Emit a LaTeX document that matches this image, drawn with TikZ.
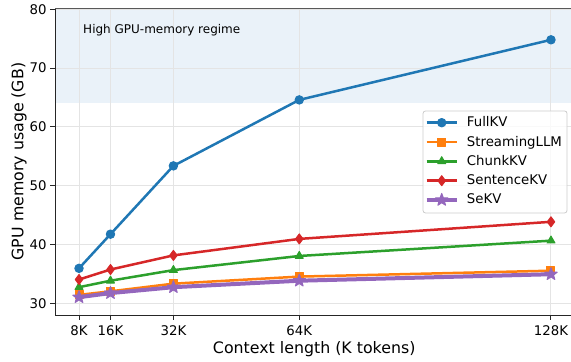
\documentclass[tikz,border=0pt]{standalone}
\usepackage{fontspec}
\setmainfont{DejaVu Sans}
\usetikzlibrary{plotmarks}

\definecolor{tabblue}{RGB}{31,119,180}
\definecolor{taborange}{RGB}{255,127,14}
\definecolor{tabgreen}{RGB}{44,160,44}
\definecolor{tabred}{RGB}{214,39,40}
\definecolor{tabpurple}{RGB}{148,103,189}
\definecolor{bandblue}{RGB}{234,242,249}
\definecolor{gridgray}{RGB}{228,228,228}

% filled five-pointed star for SeKV
\pgfdeclareplotmark{fivestar}{%
  \pgfpathmoveto{\pgfpointpolar{90}{\pgfplotmarksize}}%
  \pgfpathlineto{\pgfpointpolar{126}{0.42\pgfplotmarksize}}%
  \pgfpathlineto{\pgfpointpolar{162}{\pgfplotmarksize}}%
  \pgfpathlineto{\pgfpointpolar{198}{0.42\pgfplotmarksize}}%
  \pgfpathlineto{\pgfpointpolar{234}{\pgfplotmarksize}}%
  \pgfpathlineto{\pgfpointpolar{270}{0.42\pgfplotmarksize}}%
  \pgfpathlineto{\pgfpointpolar{306}{\pgfplotmarksize}}%
  \pgfpathlineto{\pgfpointpolar{342}{0.42\pgfplotmarksize}}%
  \pgfpathlineto{\pgfpointpolar{18}{\pgfplotmarksize}}%
  \pgfpathlineto{\pgfpointpolar{54}{0.42\pgfplotmarksize}}%
  \pgfpathclose\pgfusepathqfillstroke}

\begin{document}
\begin{tikzpicture}[x=3.933pt, y=5.89pt,
  curve/.style={line width=2.5pt, line join=round, mark options={solid, line width=1pt}},
  fullkv/.style={curve, color=tabblue, mark=*, mark size=4.2pt},
  streaming/.style={curve, color=taborange, mark=square*, mark size=4pt},
  chunkkv/.style={curve, color=tabgreen, mark=triangle*, mark size=4.6pt},
  sentkv/.style={curve, color=tabred, mark=diamond*, mark size=5pt},
  sekv/.style={curve, line width=4pt, color=tabpurple, mark=fivestar, mark size=6.5pt},
  gridline/.style={gridgray, line width=1pt},
  spine/.style={black!85, line width=1pt},
  tick/.style={black!85, line width=1pt},
  ticklab/.style={inner sep=0pt, font=\fontsize{13.3}{16}\selectfont},
  axislab/.style={inner sep=0pt, font=\fontsize{15.8}{19}\selectfont},
  legendlab/.style={inner sep=0pt, anchor=base west, font=\fontsize{13.3}{16}\selectfont},
]
\useasboundingbox (-12.09,20.27) rectangle (133.09,81.56);

% high-memory band and grid
\fill[bandblue] (1.898,64) rectangle (133.09,80.08);
\foreach \y in {30,40,...,80}
  \draw[gridline] (1.898,\y) -- (133.09,\y);
\foreach \x in {8,16,32,64,128}
  \draw[gridline] (\x,27.96) -- (\x,80.08);
\node[anchor=base west, inner sep=0pt, font=\fontsize{12}{14}\selectfont] (regime) at (9.02,75.91) {High GPU-memory regime};

% curves
\draw[fullkv] plot coordinates {(8,36.0) (16,41.8) (32,53.4) (64,64.6) (128,74.8)};
\draw[streaming] plot coordinates {(8,31.5) (16,32.1) (32,33.4) (64,34.6) (128,35.6)};
\draw[chunkkv] plot coordinates {(8,32.8) (16,33.9) (32,35.7) (64,38.1) (128,40.7)};
\draw[sentkv] plot coordinates {(8,34.1) (16,35.8) (32,38.2) (64,41.0) (128,43.9)};
\draw[sekv] plot coordinates {(8,31.1) (16,31.8) (32,32.8) (64,33.9) (128,35.0)};

% axes
\draw[spine] (1.898,80.08) -- (1.898,27.96) -- (133.09,27.96);
\draw[black!65, line width=1pt] (1.898,80.08) -- (133.09,80.08);
\foreach \y in {30,40,...,80} {
  \draw[tick] (1.898,\y) -- ++(-4.7pt,0);
  \node[ticklab, anchor=east] (ylab\y) at (-0.213,\y) {\y};
}
\foreach \x in {8,16,32,64,128} {
  \draw[tick] (\x,27.96) -- ++(0,-4.7pt);
  \node[ticklab, anchor=base] (xlab\x) at (\x,24.57) {\x K};
}
\node[axislab, anchor=base] (xtitle) at (67.80,21.46) {Context length (K tokens)};
\node[axislab, anchor=base, rotate=90] (ytitle) at (-6.16,54.14) {GPU memory usage (GB)};

% legend
\draw[draw=black!20, fill=white, fill opacity=0.8, rounded corners=2.5pt, line width=0.8pt]
  (95.47,62.72) rectangle (132.08,45.40);
\draw[fullkv, mark indices={2}] plot coordinates {(96.41,60.73) (100.22,60.73) (104.03,60.73)};
\draw[streaming, mark indices={2}] plot coordinates {(96.41,57.45) (100.22,57.45) (104.03,57.45)};
\draw[chunkkv, mark indices={2}] plot coordinates {(96.41,54.17) (100.22,54.17) (104.03,54.17)};
\draw[sentkv, mark indices={2}] plot coordinates {(96.41,50.88) (100.22,50.88) (104.03,50.88)};
\draw[sekv, mark indices={2}] plot coordinates {(96.41,47.61) (100.22,47.61) (104.03,47.61)};
\node[legendlab] (lfull) at (106.58,60.05) {FullKV};
\node[legendlab] (lstream) at (106.58,56.77) {StreamingLLM};
\node[legendlab] (lchunk) at (106.58,53.49) {ChunkKV};
\node[legendlab] (lsent) at (106.58,50.20) {SentenceKV};
\node[legendlab] (lsekv) at (106.58,46.93) {SeKV};
\end{tikzpicture}
\end{document}
